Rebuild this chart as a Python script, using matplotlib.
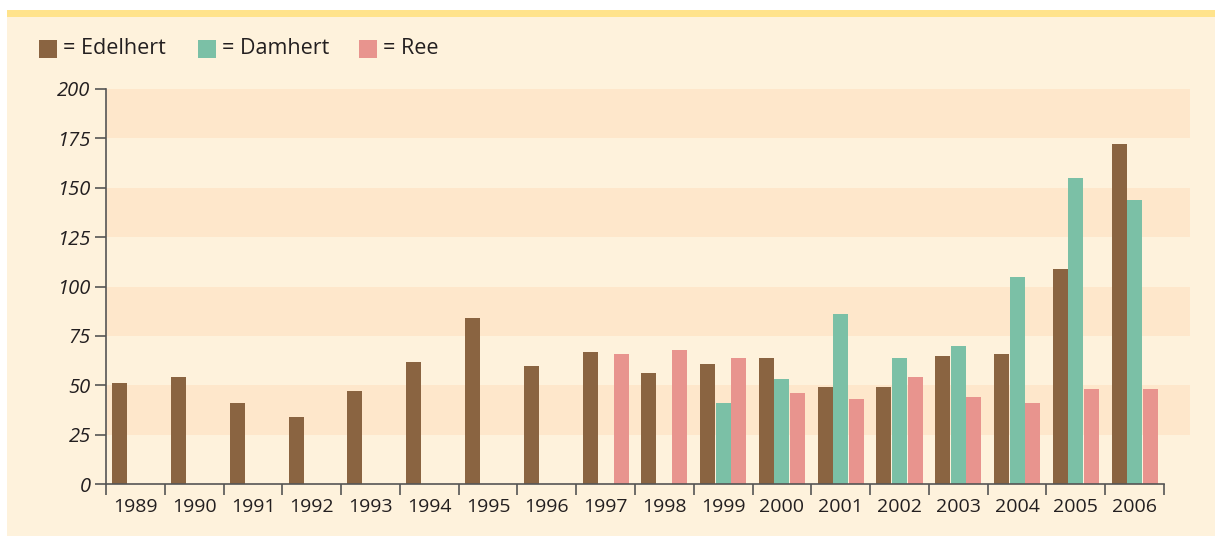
import matplotlib.pyplot as plt
from matplotlib.patches import Rectangle
import numpy as np

plt.rcParams['font.family'] = ['Open Sans', 'DejaVu Sans']

years = ['1989', '1990', '1991', '1992', '1993', '1994', '1995', '1996', '1997',
         '1998', '1999', '2000', '2001', '2002', '2003', '2004', '2005', '2006']
edelhert = [51, 54, 41, 34, 47, 62, 84, 60, 67, 56, 61, 64, 49, 49, 65, 66, 109, 172]
damhert = [0, 0, 0, 0, 0, 0, 0, 0, 0, 0, 41, 53, 86, 64, 70, 105, 155, 144]
ree = [0, 0, 0, 0, 0, 0, 0, 0, 66, 68, 64, 46, 43, 54, 44, 41, 48, 48]

c_edel = '#8a6441'
c_dam = '#7bc0a6'
c_ree = '#e8948e'
cream = '#fef2dc'
band = '#fee7cb'
axcol = '#555555'
txt = '#231f20'

W, H = 1215, 536
fig = plt.figure(figsize=(W / 100, H / 100), dpi=100)
fig.patch.set_facecolor('white')
# panel background + yellow stripe
fig.patches.append(Rectangle((7 / W, 0), 1 - 7 / W, (H - 10) / H, transform=fig.transFigure,
                             facecolor=cream, edgecolor='none', zorder=-2))
fig.patches.append(Rectangle((7 / W, (H - 17) / H), 1 - 7 / W, 7 / H, transform=fig.transFigure,
                             facecolor='#ffe38c', edgecolor='none', zorder=-1))

ax_l, ax_r, ax_b, ax_t = 106, 1190, 484, 89
ax = fig.add_axes([ax_l / W, 1 - ax_b / H, (ax_r - ax_l) / W, (ax_b - ax_t) / H])
ax.set_facecolor(cream)

n = len(years)
x = np.arange(n)
ax.set_xlim(-0.5, -0.5 + (ax_r - ax_l) / ((1164 - ax_l) / n))
ax.set_ylim(0, 200)

for lo in [25, 75, 125, 175]:
    ax.axhspan(lo, lo + 25, color=band, lw=0, zorder=0)

bw = 0.255
step = 0.265
ax.bar(x - step, edelhert, bw, color=c_edel, zorder=2, lw=0)
ax.bar(x, damhert, bw, color=c_dam, zorder=2, lw=0)
ax.bar(x + step, ree, bw, color=c_ree, zorder=2, lw=0)

for s in ['top', 'right']:
    ax.spines[s].set_visible(False)
ax.spines['left'].set_color(axcol)
ax.spines['bottom'].set_color(axcol)
ax.spines['left'].set_linewidth(1.2)
ax.spines['bottom'].set_linewidth(1.2)
ax.spines['bottom'].set_bounds(-0.5, n - 0.5)

ax.set_yticks(np.arange(0, 201, 25))
ax.set_yticklabels([str(v) for v in range(0, 201, 25)], fontstyle='italic', fontsize=14.5, color=txt)
ax.tick_params(axis='y', length=8, width=1.2, color=axcol, pad=3)

ax.set_xticks(np.arange(-0.5, n, 1.0))
ax.set_xticklabels([])
ax.tick_params(axis='x', which='major', length=8, width=1.2, color=axcol)
ax.set_xticks(x, minor=True)
ax.set_xticklabels(years, minor=True, fontsize=14, color=txt)
ax.tick_params(axis='x', which='minor', length=0, pad=10)

# legend
leg = [(39, c_edel, '= Edelhert'), (198, c_dam, '= Damhert'), (359, c_ree, '= Ree')]
for px, col, lab in leg:
    fig.patches.append(Rectangle((px / W, 1 - 58 / H), 18 / W, 18 / H, transform=fig.transFigure,
                                 facecolor=col, edgecolor='none', zorder=2))
    fig.text((px + 24) / W, 1 - 48 / H, lab, fontsize=15.5, color=txt, va='center', ha='left')

fig.savefig('out.png', dpi=100, facecolor=fig.get_facecolor())
